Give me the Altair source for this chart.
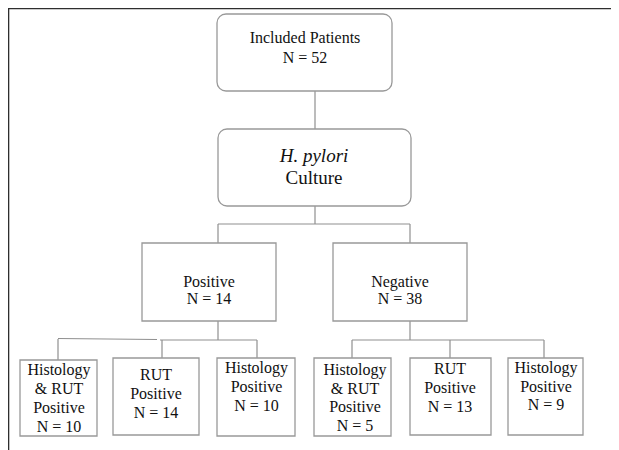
import altair as alt
import pandas as pd

# ---- content of the flow chart ----
top_lines = ["Included Patients"]
top_n = 52
culture_lines = ["H. pylori", "Culture"]
group_lines = [["Positive"], ["Negative"]]
group_n = [14, 38]
test_lines = [["Histology", "& RUT", "Positive"], ["RUT", "Positive"], ["Histology", "Positive"]]
positive_test_n = [10, 14, 10]
negative_test_n = [5, 13, 9]

# ---- layout (image pixel coordinates) ----
# boxes: x1, x2, y1, y2, text centre x, first baseline, line step
layout = {
    "top":      (217, 392, 14, 91, 305, 43, 20),
    "culture":  (218, 411, 129, 206, 314, 162, 22),
    "pos":      (142, 276, 243, 321, 209, 287, 17),
    "neg":      (333, 467, 243, 321, 400, 287, 17),
    "p1":       (20, 97, 360, 436, 59, 375, 19),
    "p2":       (113, 199, 358, 435, 156, 380, 19),
    "p3":       (217, 295, 358, 436, 256.5, 373, 19),
    "n1":       (314, 391, 358, 436, 355, 375, 18.7),
    "n2":       (410, 491, 358, 435, 450, 374, 19),
    "n3":       (508, 583, 358, 435, 546, 373, 18.5),
}
rounded = ["top", "culture"]

connectors = [
    (315, 315, 91, 129), (315, 315, 206, 224),
    (218, 410, 224, 224), (218, 218, 224, 243), (410, 410, 224, 243),
    (218, 218, 321, 340), (58, 157, 338.5, 339.5), (160, 257, 340, 340),
    (58, 58, 339, 360), (162, 162, 340, 358), (257, 257, 340, 358),
    (410, 410, 321, 340), (352, 544, 340, 340),
    (352, 352, 340, 358), (450, 450, 340, 358), (544, 544, 340, 358),
]
frame = [(6.8, 640, 8, 8), (8, 8, 6.8, 460)]

# ---- text per box ----
node_text = {
    "top": top_lines + [f"N = {top_n}"],
    "pos": group_lines[0] + [f"N = {group_n[0]}"],
    "neg": group_lines[1] + [f"N = {group_n[1]}"],
}
for i, k in enumerate(["p1", "p2", "p3"]):
    node_text[k] = test_lines[i] + [f"N = {positive_test_n[i]}"]
for i, k in enumerate(["n1", "n2", "n3"]):
    node_text[k] = test_lines[i] + [f"N = {negative_test_n[i]}"]

rows = []
for k, lines in node_text.items():
    x1, x2, y1, y2, tx, b0, step = layout[k]
    for j, t in enumerate(lines):
        rows.append({"tx": tx, "ty": b0 + j * step, "t": t})
text_df = pd.DataFrame(rows)

cx1, cx2, cy1, cy2, ctx, cb0, cstep = layout["culture"]
culture_df = pd.DataFrame([
    {"tx": ctx, "ty": cb0 + j * cstep, "t": t, "style": "italic" if j == 0 else "normal"}
    for j, t in enumerate(culture_lines)
])

box_df = pd.DataFrame([
    {"name": k, "x1": v[0], "x2": v[1], "y1": v[2], "y2": v[3]} for k, v in layout.items()
])
conn_df = pd.DataFrame(connectors, columns=["x1", "x2", "y1", "y2"])
frame_df = pd.DataFrame(frame, columns=["x1", "x2", "y1", "y2"])

X = alt.Scale(domain=[8, 611], nice=False, zero=False)
Y = alt.Scale(domain=[8, 450], nice=False, zero=False, reverse=True)
FONT = "'Liberation Serif', 'Times New Roman', serif"
INK = "#111111"

def seg_enc():
    return dict(
        x=alt.X("x1:Q", scale=X, axis=None),
        x2="x2:Q",
        y=alt.Y("y1:Q", scale=Y, axis=None),
        y2="y2:Q",
    )

def txt_enc():
    return dict(
        x=alt.X("tx:Q", scale=X, axis=None),
        y=alt.Y("ty:Q", scale=Y, axis=None),
        text="t:N",
    )

frame_layer = alt.Chart(frame_df).mark_rule(color="#2e2e2e", strokeWidth=2.6, clip=False).encode(**seg_enc())
conn_layer = alt.Chart(conn_df).mark_rule(color="#8f8f8f", strokeWidth=1.2).encode(**seg_enc())

round_boxes = alt.Chart(box_df[box_df["name"].isin(rounded)]).mark_rect(
    fill="white", stroke="#999999", strokeWidth=1.3, cornerRadius=9
).encode(**seg_enc())
square_boxes = alt.Chart(box_df[~box_df["name"].isin(rounded)]).mark_rect(
    fill="white", stroke="#999999", strokeWidth=1.3
).encode(**seg_enc())

text_layer = alt.Chart(text_df).mark_text(
    font=FONT, fontSize=16, color=INK, align="center", baseline="alphabetic"
).encode(**txt_enc())

culture_italic = alt.Chart(culture_df[culture_df["style"] == "italic"]).mark_text(
    font=FONT, fontSize=19, fontStyle="italic", color=INK,
    align="center", baseline="alphabetic"
).encode(**txt_enc())
culture_normal = alt.Chart(culture_df[culture_df["style"] == "normal"]).mark_text(
    font=FONT, fontSize=19, color=INK,
    align="center", baseline="alphabetic"
).encode(**txt_enc())

chart = alt.layer(
    frame_layer, conn_layer, round_boxes, square_boxes, text_layer, culture_italic, culture_normal
).properties(
    width=603, height=442, padding=0,
    autosize=alt.AutoSizeParams(type="none"),
    background="white",
).configure_view(stroke=None)

chart.save("out.html", embed_options={"renderer": "svg", "actions": False})
